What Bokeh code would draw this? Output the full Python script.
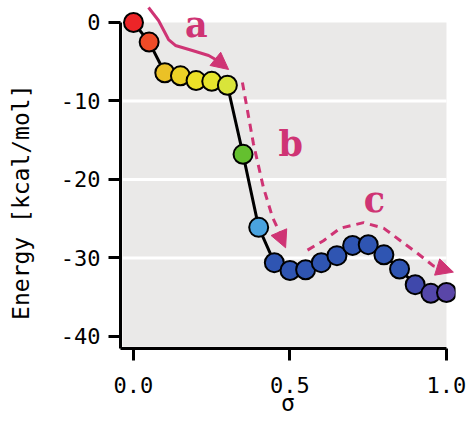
from bokeh.plotting import figure
from bokeh.models import FixedTicker, PrintfTickFormatter, Arrow, NormalHead, Range1d
from bokeh.core.properties import value
from bokeh.embed import file_html
from bokeh.resources import INLINE

# ---- data ----
sigma = [0.0, 0.05, 0.10, 0.15, 0.20, 0.25, 0.30, 0.35, 0.40, 0.45, 0.50,
         0.55, 0.60, 0.65, 0.70, 0.75, 0.80, 0.85, 0.90, 0.95, 1.00]
energy = [0.0, -2.5, -6.4, -6.8, -7.4, -7.5, -8.0, -16.8, -26.1, -30.6, -31.6,
          -31.5, -30.6, -29.7, -28.4, -28.3, -29.6, -31.4, -33.4, -34.5, -34.4]
dot_colors = ["#ec2528", "#ef4b27", "#ebc126", "#ebd126", "#ece027", "#e6e42c",
              "#d9e43a", "#64c02f", "#4aa3df",
              "#2f55b2", "#2f55b2", "#2f55b2", "#2f55b2", "#2f55b2", "#2f55b2",
              "#2f55b2", "#2f55b2", "#2f55b2",
              "#3f48ab", "#5347aa", "#5a46a8"]
x_ticks = [0.0, 0.5, 1.0]
y_ticks = [0, -10, -20, -30, -40]
grid_levels = [-10, -20, -30]

# annotation paths (data coordinates)
arrow_a_x = [0.048, 0.080, 0.112, 0.134, 0.188, 0.240, 0.268, 0.290]
arrow_a_y = [1.91, 0.25, -2.17, -2.93, -3.57, -4.20, -4.84, -5.40]
arrow_b_x = [0.348, 0.383, 0.415, 0.444, 0.470]
arrow_b_y = [-7.64, -15.4, -21.0, -24.8, -27.0]
arrow_c_x = [0.556, 0.607, 0.661, 0.735, 0.799, 0.853, 0.907, 0.958, 1.000]
arrow_c_y = [-29.0, -27.8, -26.2, -25.5, -26.2, -27.8, -29.4, -31.0, -31.5]
letters = ["a", "b", "c"]
letter_x = [0.201, 0.502, 0.770]
letter_y = [-0.25, -15.45, -22.6]

MAG = "#cf3474"
MONO = "DejaVu Sans Mono"
NB = "\u00a0"

p = figure(width=468, height=421, output_backend="svg", toolbar_location=None,
           x_range=Range1d(-0.0415, 1.0288), y_range=Range1d(-41.53, 2.80),
           min_border_left=120, min_border_right=13, min_border_top=0,
           min_border_bottom=73)
p.background_fill_color = "white"
p.border_fill_color = "white"
p.outline_line_color = None
p.xgrid.visible = False
p.ygrid.visible = False

# panel background and grid
p.quad(left=[-0.035], right=[1.0], bottom=[-41.3], top=[0.0],
       fill_color="#eae9e8", line_color=None)
p.segment(x0=[-0.035] * len(grid_levels), x1=[1.0] * len(grid_levels),
          y0=grid_levels, y1=grid_levels, line_color="white", line_width=3)

# curve and points
p.line(sigma, energy, line_color="black", line_width=3, line_join="round")
p.scatter(sigma, energy, size=19, fill_color=dot_colors, line_color="black",
          line_width=2)

# annotation arrows
p.line(arrow_a_x, arrow_a_y, line_color=MAG, line_width=3)
p.line(arrow_b_x, arrow_b_y, line_color=MAG, line_width=3, line_dash="8 6")
p.line(arrow_c_x, arrow_c_y, line_color=MAG, line_width=3, line_dash="8 6")
heads = [((0.268, -4.84), (0.304, -5.99)),
         ((0.444, -24.8), (0.486, -28.7)),
         ((0.958, -31.0), (1.022, -31.8))]
for (xs, ys), (xe, ye) in heads:
    p.add_layout(Arrow(end=NormalHead(size=17, fill_color=MAG, line_color=MAG,
                                      line_width=1),
                       x_start=xs, y_start=ys, x_end=xe, y_end=ye,
                       line_alpha=0))

p.text(letter_x, letter_y, text=letters, text_color=MAG,
       text_font=value("DejaVu Serif"), text_font_style="bold",
       text_font_size="35px", text_align="center", text_baseline="alphabetic")

# axes
for ax in (p.xaxis[0], p.yaxis[0]):
    ax.axis_line_width = 3
    ax.axis_line_color = "black"
    ax.major_tick_line_width = 3
    ax.major_tick_line_color = "black"
    ax.major_tick_in = 0
    ax.major_tick_out = 12
    ax.minor_tick_line_color = None
    ax.major_label_text_font = MONO
    ax.major_label_text_font_size = "22px"
    ax.major_label_text_color = "black"
    ax.axis_label_text_font = MONO
    ax.axis_label_text_font_size = "23px"
    ax.axis_label_text_font_style = "normal"
    ax.axis_label_text_color = "black"

p.xaxis.ticker = FixedTicker(ticks=x_ticks)
p.xaxis.formatter = PrintfTickFormatter(format="%.1f")
p.xaxis.bounds = (-0.0415, 1.0)
p.xaxis.major_label_standoff = 16
p.xaxis.axis_label = "σ"
p.xaxis.axis_label_standoff = -6

p.yaxis.ticker = FixedTicker(ticks=y_ticks)
p.yaxis.formatter = PrintfTickFormatter(format="%d")
p.yaxis.bounds = (-41.53, 0)
p.yaxis.major_label_standoff = 8
p.yaxis.axis_label = "Energy [kcal/mol]" + NB * 4
p.yaxis.axis_label_standoff = 24

open("out.html", "w").write(file_html(p, INLINE))
